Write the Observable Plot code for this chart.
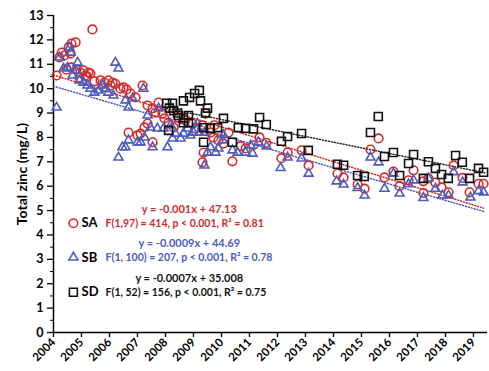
<!DOCTYPE html>
<html><head><meta charset="utf-8">
<script src="https://cdn.jsdelivr.net/npm/d3@7"></script>
<script src="https://cdn.jsdelivr.net/npm/@observablehq/plot@0.6"></script>
<style>body{margin:0;background:#fff}</style>
</head><body><div id="chart"></div>
<script>
// ---- data (decimal year, total zinc mg/L) ----
const saYear = [2004.11,2004.29,2004.39,2004.21,2004.54,2004.64,2004.79,2004.61,2004.46,2004.64,2004.82,2004.96,2005.07,2005.25,2005.32,2004.93,2005.14,2005.2,2005.39,2005.46,2005.68,2005.82,2005.96,2006.11,2006.21,2006.04,2006.39,2006.5,2006.61,2006.75,2006.93,2007.18,2006.68,2007.0,2007.11,2007.25,2007.36,2007.54,2007.36,2007.54,2007.75,2007.64,2007.89,2007.96,2008.11,2008.29,2008.46,2008.71,2008.96,2009.07,2009.32,2009.36,2009.32,2009.61,2009.71,2009.89,2010.07,2010.39,2010.25,2009.43,2009.75,2010.68,2010.86,2011.14,2011.36,2011.6,2012.14,2012.36,2012.86,2013.11,2014.14,2014.36,2014.86,2015.11,2015.32,2015.61,2015.82,2016.14,2016.36,2016.68,2016.86,2017.21,2017.21,2017.39,2017.64,2017.86,2018.11,2018.29,2018.61,2018.86,2019.18,2019.36];
const saZinc = [10.54,11.48,11.36,11.28,11.69,11.85,11.9,11.44,10.78,10.87,10.78,10.66,10.75,10.66,10.62,10.46,10.54,10.5,12.43,10.3,10.34,10.25,10.34,10.25,10.2,10.13,10.0,10.05,9.97,9.8,9.64,10.13,8.2,8.08,8.16,8.41,8.57,7.8,9.31,9.19,9.43,9.02,8.98,8.78,8.61,8.41,8.82,8.7,8.57,8.37,8.5,7.38,6.98,8.2,8.0,7.88,7.75,7.02,8.2,8.98,8.5,7.64,7.55,7.68,8.0,7.78,7.15,7.38,7.47,6.85,6.52,6.36,6.07,5.9,7.5,7.96,6.36,6.6,6.0,6.24,6.65,6.2,5.72,6.32,6.15,5.95,5.75,6.85,6.34,5.75,6.1,6.1];

const sbYear = [2004.11,2004.21,2004.36,2004.5,2004.57,2004.61,2004.68,2004.79,2004.86,2004.93,2005.07,2005.21,2005.32,2005.46,2005.61,2005.75,2005.86,2005.96,2006.14,2006.21,2006.32,2006.57,2006.68,2006.82,2007.21,2006.32,2006.46,2006.57,2006.68,2007.0,2007.11,2007.25,2007.54,2007.36,2007.46,2007.71,2007.75,2007.93,2008.07,2008.18,2008.25,2008.36,2008.54,2008.64,2008.79,2008.89,2009.0,2009.14,2009.21,2009.39,2009.5,2009.61,2009.79,2009.89,2010.04,2010.39,2010.57,2010.86,2009.39,2010.07,2011.04,2011.11,2011.32,2011.61,2012.11,2012.36,2012.86,2013.11,2014.11,2014.36,2014.86,2015.11,2015.32,2015.61,2015.82,2016.14,2016.36,2016.68,2016.86,2017.21,2017.39,2017.64,2017.89,2018.11,2018.29,2018.61,2018.89,2019.18,2019.36];
const sbZinc = [9.23,11.28,10.83,10.87,11.69,11.48,10.54,10.75,11.07,10.34,10.25,10.13,10.0,9.84,9.93,10.13,10.0,9.84,9.72,11.07,10.83,9.52,9.23,9.6,10.0,7.18,7.6,7.6,7.88,7.8,7.8,8.0,7.6,8.9,8.41,8.37,9.19,8.37,7.6,8.5,7.96,8.16,7.96,8.16,8.37,8.08,8.2,8.57,8.2,6.85,7.38,7.6,7.38,7.55,7.88,7.47,7.38,7.38,8.2,8.1,7.67,7.34,7.8,7.63,6.75,7.18,7.14,6.52,6.2,6.07,5.93,5.62,7.18,6.98,5.9,6.52,5.7,6.08,6.24,5.52,6.32,5.9,5.62,5.62,6.58,6.16,5.54,5.8,5.75];

const sdYear = [2008.04,2008.25,2008.14,2008.29,2008.43,2008.64,2008.86,2009.04,2009.21,2009.25,2009.5,2009.43,2008.46,2008.64,2008.82,2008.11,2009.36,2009.36,2009.6,2009.86,2010.07,2010.39,2010.6,2010.86,2011.14,2011.36,2011.6,2012.14,2012.36,2012.86,2013.1,2014.14,2014.36,2014.86,2015.1,2015.32,2015.6,2015.82,2016.14,2016.36,2016.68,2016.86,2017.21,2017.39,2017.64,2017.86,2018.1,2018.36,2018.6,2018.86,2019.18,2019.36,2008.64,2008.82];
const sdZinc = [9.4,9.4,9.2,9.1,9.0,9.5,9.64,9.8,9.93,9.5,9.2,9.0,8.9,8.8,8.9,8.29,7.8,8.4,8.37,8.4,8.78,7.8,8.4,8.37,8.35,8.82,8.53,7.84,8.04,8.16,7.47,6.9,6.86,6.44,6.4,8.2,8.86,7.22,7.38,6.44,6.93,7.3,6.32,7.0,6.73,6.48,6.32,7.26,6.98,6.32,6.73,6.57,8.6,8.6];

// fitted trend lines (end points)
const fitYearSA = [2004, 2019.36], fitZincSA = [10.56, 5.1];
const fitYearSB = [2004, 2019.4],  fitZincSB = [10.1, 4.95];
const fitYearSD = [2008.04, 2019.4], fitZincSD = [9.19, 6.55];

const yearTicks = [2004,2005,2006,2007,2008,2009,2010,2011,2012,2013,2014,2015,2016,2017,2018,2019];
const zincTicks = [0,1,2,3,4,5,6,7,8,9,10,11,12,13];
const zincMinor = [0.5,1.5,2.5,3.5,4.5,5.5,6.5,7.5,8.5,9.5,10.5,11.5,12.5];

const seriesNames = ["SA","SB","SD"];
const eqTexts = ["y = -0.001x + 47.13","y = -0.0009x + 44.69","y = -0.0007x + 35.008"];
const statTexts = ["F(1,97) = 414, p < 0.001, R² = 0.81","F(1, 100) = 207, p < 0.001, R² = 0.78","F(1, 52) = 156, p < 0.001, R² = 0.75"];

// ---- build tables ----
const zip = (xs, ys) => xs.map((x, i) => ({x, y: ys[i]}));
const sa = zip(saYear, saZinc), sb = zip(sbYear, sbZinc), sd = zip(sdYear, sdZinc);
const fa = zip(fitYearSA, fitZincSA), fb = zip(fitYearSB, fitZincSB), fd = zip(fitYearSD, fitZincSD);

const red = "#d42a2a", blue = "#4a5cc0", black = "#111";
const colors = [red, blue, black];
const symbols = ["circle", "triangle", "square"];
const radii = [4.3, 3.3, 4.5];

// annotation layout (data coords)
const annX = {sym: 2004.71, name: 2005.0, stat: 2005.86, eq: 2008.85};
const annY = [{eq: 5.05, row: 4.48}, {eq: 3.66, row: 3.08}, {eq: 2.22, row: 1.65}];

const ann = [];
seriesNames.forEach((s, i) => {
  ann.push(Plot.text([eqTexts[i]], {x: annX.eq, y: annY[i].eq, text: d => d, fill: colors[i], fontSize: 11, fontWeight: "bold", textAnchor: "middle"}));
  ann.push(Plot.dot([0], {x: annX.sym, y: annY[i].row, symbol: symbols[i], r: radii[i], stroke: colors[i], strokeWidth: 1.6, fill: "none"}));
  ann.push(Plot.text([s], {x: annX.name, y: annY[i].row, text: d => d, fill: "#000", fontSize: 13, fontWeight: "bold", textAnchor: "start"}));
  ann.push(Plot.text([statTexts[i]], {x: annX.stat, y: annY[i].row, text: d => d, fill: colors[i], fontSize: 10.5, fontWeight: "bold", textAnchor: "start"}));
});

const dash = "1,2";
const chart = Plot.plot({
  width: 489, height: 371,
  marginLeft: 53, marginRight: 2, marginTop: 15, marginBottom: 39,
  style: {fontFamily: "Lato, 'Open Sans', sans-serif", fontWeight: "bold", color: "#000", background: "#fff"},
  x: {domain: [2004, 2019.5]},
  y: {domain: [0, 13]},
  marks: [
    Plot.axisY({ticks: zincMinor, tickSize: 3, tickFormat: () => "", label: null}),
    Plot.axisY({ticks: zincTicks, tickSize: 6, tickPadding: 4, fontSize: 12.5, tickFormat: d => String(d), label: null, strokeWidth: 1.3}),
    Plot.axisX({ticks: yearTicks, tickSize: 5, tickPadding: 3, tickRotate: -45, fontSize: 11.5, tickFormat: d => String(d), label: null, strokeWidth: 1.3}),
    Plot.ruleX([2004], {stroke: "#000", strokeWidth: 1.5}),
    Plot.ruleY([0], {stroke: "#000", strokeWidth: 1.5}),
    Plot.text(["Total zinc (mg/L)"], {frameAnchor: "left", textAnchor: "middle", rotate: -90, dx: -31, fontSize: 14, fontWeight: "bold", text: d => d}),
    Plot.line(fa, {x: "x", y: "y", stroke: red, strokeWidth: 1.5, strokeDasharray: dash}),
    Plot.line(fb, {x: "x", y: "y", stroke: blue, strokeWidth: 1.5, strokeDasharray: dash}),
    Plot.line(fd, {x: "x", y: "y", stroke: "#222", strokeWidth: 1.5, strokeDasharray: dash}),
    Plot.dot(sa, {x: "x", y: "y", symbol: "circle", r: radii[0], stroke: red, strokeWidth: 1.6, fill: "none"}),
    Plot.dot(sb, {x: "x", y: "y", symbol: "triangle", r: radii[1], stroke: blue, strokeWidth: 1.6, fill: "none"}),
    Plot.dot(sd, {x: "x", y: "y", symbol: "square", r: radii[2], stroke: black, strokeWidth: 1.6, fill: "none"}),
    ...ann
  ]
});
document.getElementById("chart").appendChild(chart);
</script>
</body></html>
